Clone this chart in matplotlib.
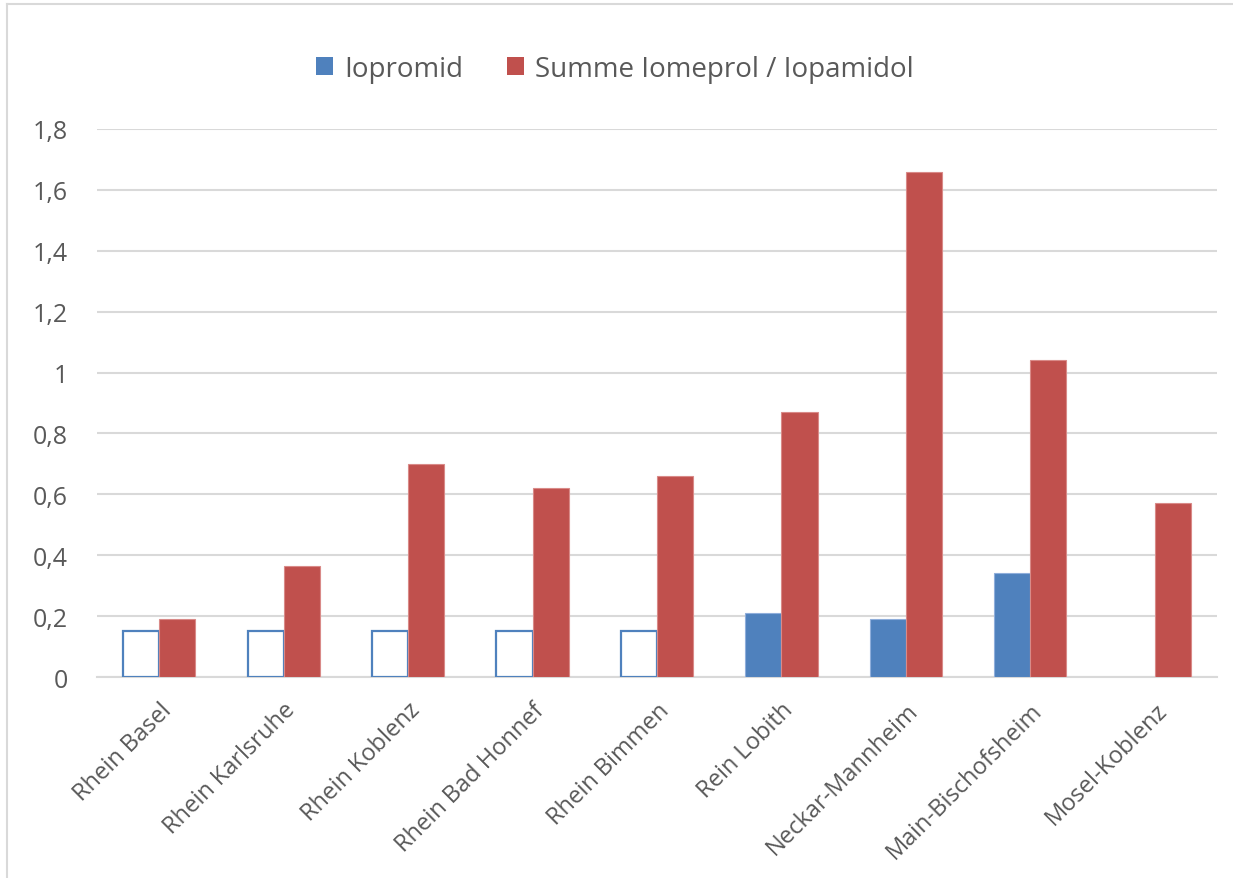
import numpy as np
import matplotlib.pyplot as plt
from matplotlib.lines import Line2D
from matplotlib.patches import Patch

plt.rcParams['font.family'] = ['Open Sans', 'DejaVu Sans']

# Messstellen und Konzentrationen (µg/L)
stations = ['Rhein Basel', 'Rhein Karlsruhe', 'Rhein Koblenz', 'Rhein Bad Honnef',
            'Rhein Bimmen', 'Rein Lobith', 'Neckar-Mannheim', 'Main-Bischofsheim',
            'Mosel-Koblenz']
iopromid = [0.15, 0.15, 0.15, 0.15, 0.15, 0.21, 0.19, 0.34, 0.0]
# True = unter Bestimmungsgrenze (nur Umriss)
below_loq = [True, True, True, True, True, False, False, False, False]
summe = [0.19, 0.365, 0.70, 0.62, 0.66, 0.87, 1.66, 1.04, 0.57]

blue = '#4F81BD'
red = '#C0504D'
grey_txt = '#595959'
grid_c = '#D9D9D9'

fig = plt.figure(figsize=(12.33, 8.79), dpi=100)
ax = fig.add_axes([97 / 1233, 1 - 678 / 879, 1120 / 1233, 548 / 879])

x = np.arange(len(stations))
w = 0.29
for xi, v, loq in zip(x, iopromid, below_loq):
    if v <= 0:
        continue
    if loq:
        ax.bar(xi - w / 2, v, w, facecolor='white', edgecolor=blue, linewidth=1.6, zorder=3)
    else:
        ax.bar(xi - w / 2, v, w, facecolor=blue, edgecolor='#8FAEDB', linewidth=0.8, zorder=3)
ax.bar(x + w / 2, summe, w, facecolor=red, edgecolor='#D98A88', linewidth=0.8, zorder=3)

ax.set_xlim(-0.5, len(stations) - 0.5)
ax.set_ylim(0, 1.8)
ax.set_yticks(np.arange(0, 1.81, 0.2))
ax.set_yticklabels(['0', '0,2', '0,4', '0,6', '0,8', '1', '1,2', '1,4', '1,6', '1,8'],
                   fontsize=18, color=grey_txt)
ax.set_xticks(x)
ax.set_xticklabels(stations, rotation=45, ha='right', va='top', rotation_mode='anchor',
                   fontsize=17, color=grey_txt)
ax.tick_params(axis='both', length=0)
ax.tick_params(axis='y', pad=21)
ax.tick_params(axis='x', pad=15)
ax.grid(axis='y', color=grid_c, linewidth=1.5, zorder=0)
for s in ['top', 'right', 'left']:
    ax.spines[s].set_visible(False)
ax.spines['bottom'].set_color(grid_c)
ax.spines['bottom'].set_linewidth(1.5)
ax.set_axisbelow(True)

handles = [Patch(facecolor=blue, edgecolor='none', label='Iopromid'),
           Patch(facecolor=red, edgecolor='none', label='Summe Iomeprol / Iopamidol')]
fig.legend(handles=handles, loc='center', bbox_to_anchor=(615 / 1233, 1 - 70 / 879),
           ncol=2, frameon=False, fontsize=20, handlelength=0.6, handleheight=0.6,
           handletextpad=0.4, columnspacing=1.6, labelcolor=grey_txt)

# Rahmen um das Diagramm
fig.add_artist(Line2D([7 / 1233, 7 / 1233], [0, 1 - 5 / 879], color=grid_c, linewidth=1.5))
fig.add_artist(Line2D([7 / 1233, 1], [1 - 5 / 879, 1 - 5 / 879], color=grid_c, linewidth=1.5))

fig.savefig('out.png', dpi=100)
